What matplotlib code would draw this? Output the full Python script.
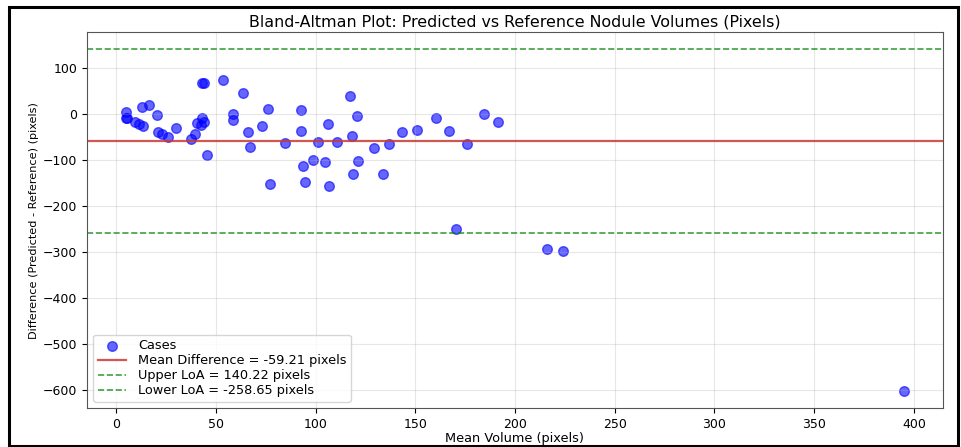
import numpy as np
import matplotlib
matplotlib.use("Agg")
import matplotlib.pyplot as plt
from matplotlib.patches import Rectangle

# mean of predicted and reference volume, and their difference (pixels)
mean_volume = [4.9, 4.9, 5.3, 9.3, 11.5, 13.7, 13.1, 16.6, 20.5, 20.8,
               23.0, 26.2, 30.0, 37.5, 39.5, 40.8, 43.2, 44.0, 42.5, 43.0,
               44.2, 45.5, 53.6, 63.7, 58.4, 58.4, 66.1, 67.1, 73.4, 76.1,
               77.1, 84.9, 92.7, 92.7, 93.8, 94.5, 98.5, 101.2, 104.5, 106.5,
               106.9, 110.7, 117.2, 118.2, 118.6, 120.8, 121.3, 129.3, 133.6, 137.0,
               143.2, 150.7, 160.4, 167.1, 176.0, 170.4, 184.6, 191.3, 215.9, 224.0,
               395.0]
difference = [3, -9, -10, -17, -22, -27, 15.5, 20, -2, -39,
              -44, -51, -32, -56, -45, -20, -10, -18, -25, 66.7,
              66, -89.5, 73.5, 45, -1, -14.5, -40, -73, -26, 9.4,
              -153, -64.5, 8, -38.4, -114, -148, -100, -61.6, -104, -22.5,
              -156.5, -62.3, 38.4, -48.6, -131, -5, -103, -74, -130.4, -66.6,
              -40, -35.5, -10, -37.7, -65.2, -250.7, 0, -18.8, -294, -298,
              -603]

mean_diff = -59.21
upper_loa = 140.22
lower_loa = -258.65

fig = plt.figure(figsize=(9.62, 4.47), dpi=100)
ax = fig.add_axes([0.0904, 0.0872, 0.8896, 0.8408])

ax.scatter(mean_volume, difference, color='blue', alpha=0.6, s=48, label='Cases')
ax.axhline(mean_diff, color='#c83a34', linewidth=1.6, alpha=0.85,
           label=f'Mean Difference = {mean_diff:.2f} pixels')
ax.axhline(upper_loa, color='green', linestyle='--', linewidth=1.2, alpha=0.75,
           label=f'Upper LoA = {upper_loa:.2f} pixels')
ax.axhline(lower_loa, color='green', linestyle='--', linewidth=1.2, alpha=0.75,
           label=f'Lower LoA = {lower_loa:.2f} pixels')

ax.set_title('Bland-Altman Plot: Predicted vs Reference Nodule Volumes (Pixels)',
             fontsize=11.4, pad=4)
ax.set_xlabel('Mean Volume (pixels)', fontsize=9.3, labelpad=1)
ax.set_ylabel('Difference (Predicted - Reference) (pixels)', fontsize=8.1, labelpad=3)
ax.tick_params(labelsize=9, length=3.5)
ax.grid(True, alpha=0.3)
ax.legend(loc='lower left', fontsize=9.3, handletextpad=0.9, borderpad=0.35,
          labelspacing=0.15, handlelength=2.2)
for s in ax.spines.values():
    s.set_color('#555555')

# thin black frame round the whole figure
fig.patches.append(Rectangle((0.009, 0.002), 0.987, 0.982, transform=fig.transFigure,
                             fill=False, edgecolor='black', linewidth=2.2))

fig.savefig('out.png', dpi=100)
